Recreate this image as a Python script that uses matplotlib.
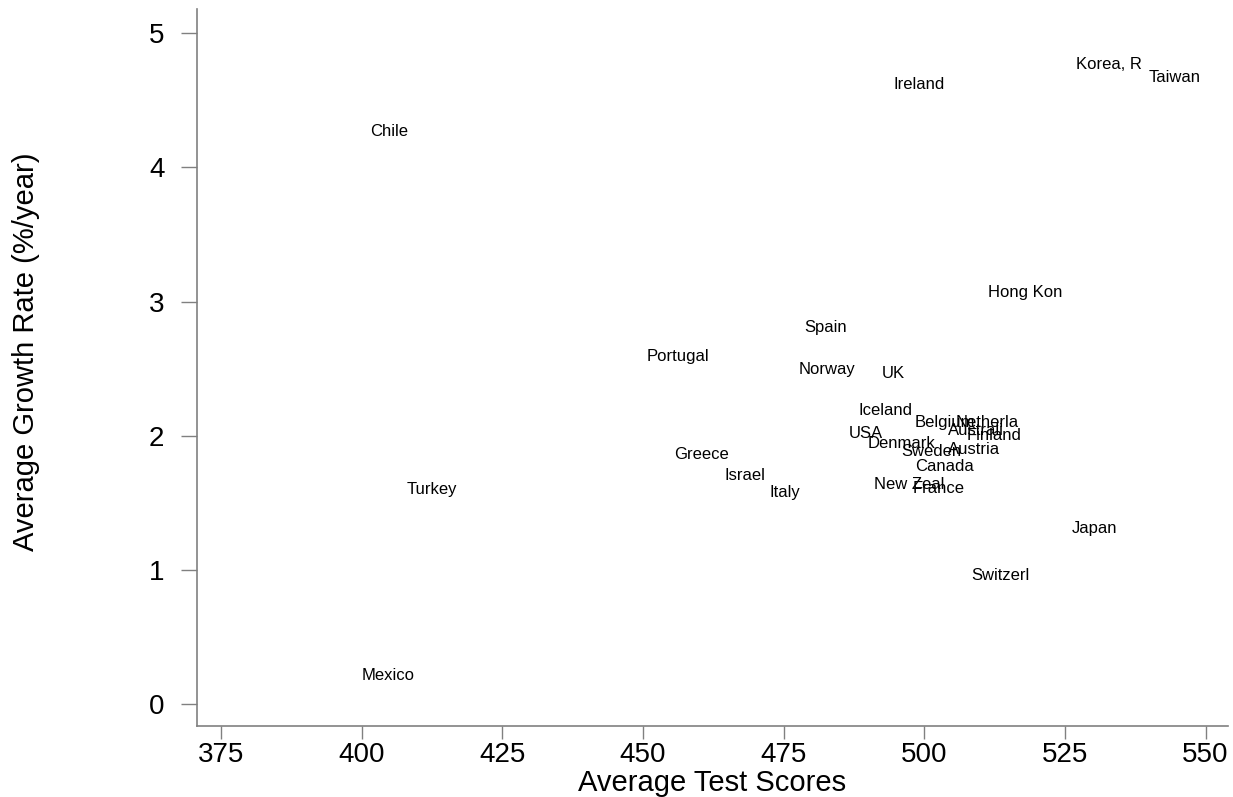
import matplotlib.pyplot as plt

plt.rcParams['font.family'] = ['Liberation Sans', 'DejaVu Sans']

# Länder (Stata-Beschriftungen, auf 8 Zeichen gekürzt)
countries = ['Korea, R', 'Taiwan', 'Ireland', 'Chile', 'Hong Kon', 'Spain',
             'Portugal', 'Norway', 'UK', 'Iceland', 'Belgium', 'Netherla',
             'Australi', 'Finland', 'USA', 'Denmark', 'Sweden', 'Austria',
             'Canada', 'New Zeal', 'France', 'Greece', 'Israel', 'Italy',
             'Turkey', 'Japan', 'Switzerl', 'Mexico']
test_scores = [526.2, 539.1, 493.7, 400.8, 510.6, 478.0,
               449.9, 477.0, 491.7, 487.6, 497.6, 504.9,
               503.5, 506.7, 485.9, 489.1, 495.1, 503.5,
               497.6, 490.3, 497.2, 454.7, 463.8, 471.8,
               407.2, 525.5, 507.6, 399.2]
growth = [4.77, 4.67, 4.62, 4.27, 3.07, 2.81,
          2.59, 2.49, 2.46, 2.19, 2.10, 2.10,
          2.04, 2.00, 2.02, 1.94, 1.88, 1.90,
          1.77, 1.64, 1.61, 1.86, 1.70, 1.58,
          1.60, 1.31, 0.96, 0.21]

x_ticks = [375, 400, 425, 450, 475, 500, 525, 550]
y_ticks = [0, 1, 2, 3, 4, 5]

fig = plt.figure(figsize=(12.33, 7.97), dpi=100)
ax = fig.add_axes([0.1598, 0.0890, 0.8362, 0.8997])

# nur Beschriftungen, keine Marker (wie msymbol(none) in Stata)
ax.scatter(test_scores, growth, s=0, alpha=0)
for name, xv, yv in zip(countries, test_scores, growth):
    ax.annotate(name, (xv, yv), xytext=(3, 0), textcoords='offset points',
                ha='left', va='center', fontsize=12, color='black')

ax.set_xlim(370.7, 554)
ax.set_ylim(-0.164, 5.18)
ax.set_xticks(x_ticks)
ax.set_yticks(y_ticks)

for side in ['top', 'right']:
    ax.spines[side].set_visible(False)
for side in ['left', 'bottom']:
    ax.spines[side].set_color('#808080')
    ax.spines[side].set_linewidth(1.2)

ax.tick_params(axis='both', colors='#808080', labelcolor='black',
               labelsize=20, width=1)
ax.tick_params(axis='x', length=9.5, pad=2)
ax.tick_params(axis='y', length=11.5, pad=12)

ax.set_xlabel('Average Test Scores', fontsize=21, labelpad=1)
ax.set_ylabel('Average Growth Rate (%/year)', fontsize=21)
ax.yaxis.set_label_coords(-0.152, 0.522)

fig.savefig('out.png', dpi=100)
